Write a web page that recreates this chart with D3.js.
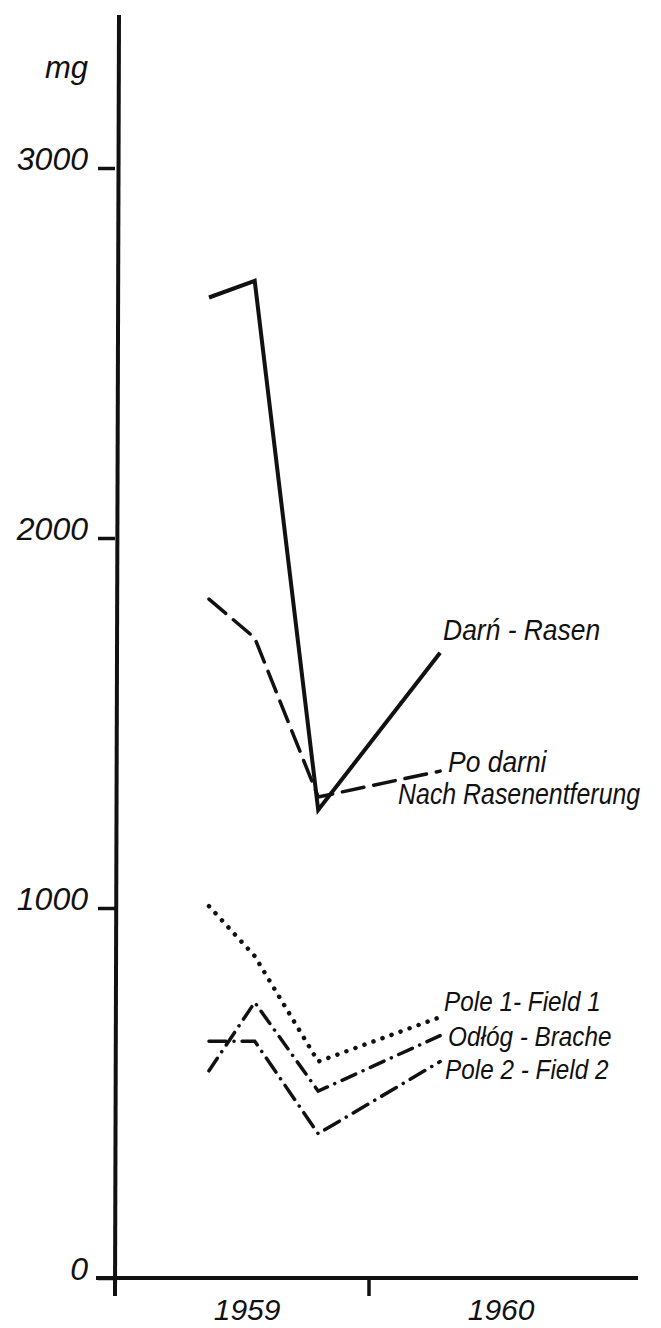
<!DOCTYPE html>
<html>
<head>
<meta charset="utf-8">
<script src="https://cdn.jsdelivr.net/npm/d3@7"></script>
<style>
  body { margin: 0; background: #fff; }
  text { font-family: "Liberation Sans", Arial, sans-serif; font-style: italic; fill: #111; }
</style>
</head>
<body>
<div id="main"></div>
<script>
// sampling dates (decimal years) and values in mg
var sampleYears = [1959.37, 1959.55, 1959.80, 1960.28];
var darn    = [2650, 2695, 1265, 1690];
var poDarni = [1835, 1730, 1300, 1370];
var pole1   = [1005, 870, 585, 705];
var odlog   = [560, 745, 505, 655];
var pole2   = [640, 640, 390, 585];
var yTicks = [0, 1000, 2000, 3000];
var xYears = [1959, 1960];

var width = 661, height = 1328;
var svg = d3.select("#main").append("svg")
  .attr("width", width).attr("height", height);
svg.append("rect").attr("width", width).attr("height", height).attr("fill", "#fff");

var x = d3.scaleLinear().domain([1959, 1960]).range([115, 369]);
var y = d3.scaleLinear().domain([0, 3000]).range([1278, 168]);

// y axis
var yAxis = svg.append("g")
  .attr("transform", "translate(" + x(1959) + ",0)")
  .call(d3.axisLeft(y).tickValues(yTicks).tickSize(17).tickPadding(10).tickFormat(d3.format("d")));
yAxis.select(".domain").remove();
yAxis.selectAll(".tick line").attr("stroke", "#111").attr("stroke-width", 3.5);
yAxis.selectAll(".tick text")
  .attr("dy", "0.05em")
  .style("font-size", "32px")
  .style("font-family", "'Liberation Sans', Arial, sans-serif")
  .style("font-style", "italic")
  .attr("fill", "#111");
svg.append("line")
  .attr("x1", x(1959) + 4).attr("y1", 15)
  .attr("x2", x(1959)).attr("y2", y(0) + 18)
  .attr("stroke", "#111").attr("stroke-width", 4);
svg.append("text")
  .attr("x", 88).attr("y", 78)
  .attr("text-anchor", "end")
  .style("font-size", "31px")
  .text("mg");

// x axis
svg.append("line")
  .attr("x1", 96).attr("y1", y(0))
  .attr("x2", 638).attr("y2", y(0))
  .attr("stroke", "#111").attr("stroke-width", 4);
svg.selectAll(".xtick").data(xYears).enter().append("line")
  .attr("class", "xtick")
  .attr("x1", function (d) { return x(d); }).attr("x2", function (d) { return x(d); })
  .attr("y1", y(0)).attr("y2", y(0) + 18)
  .attr("stroke", "#111").attr("stroke-width", 3.5);
svg.selectAll(".xlabel").data(xYears).enter().append("text")
  .attr("class", "xlabel")
  .attr("x", function (d) { return x(d + 0.52); })
  .attr("y", 1320)
  .attr("text-anchor", "middle")
  .style("font-size", "30px")
  .text(function (d) { return d; });

// series
var series = [
  { name: "Darń - Rasen", values: darn, dash: null, width: 4 },
  { name: "Po darni", values: poDarni, dash: "22,10", width: 3.5 },
  { name: "Pole 1- Field 1", values: pole1, dash: "0.1,9.5", width: 4.5 },
  { name: "Odłóg - Brache", values: odlog, dash: "15,8,0.1,8", width: 3.5 },
  { name: "Pole 2 - Field 2", values: pole2, dash: "17,8,0.1,8", width: 3.5 }
];

var line = d3.line()
  .x(function (d, i) { return x(sampleYears[i]); })
  .y(function (d) { return y(d); });

svg.selectAll(".series").data(series).enter().append("path")
  .attr("class", "series")
  .attr("d", function (s) { return line(s.values); })
  .attr("fill", "none")
  .attr("stroke", "#111")
  .attr("stroke-width", function (s) { return s.width; })
  .attr("stroke-linecap", function (s) { return s.dash ? "round" : "butt"; })
  .attr("stroke-linejoin", "miter")
  .attr("stroke-dasharray", function (s) { return s.dash; });

// labels next to the line ends (narrowed like the hand lettering)
var labelLayout = [
  { text: "Darń - Rasen", s: 0, dx: 3, dy: -13, size: 30, sx: 0.88 },
  { text: "Po darni", s: 1, dx: 8, dy: 1, size: 30, sx: 0.88 },
  { text: "Nach Rasenentferung", s: 1, dx: -42, dy: 33, size: 30, sx: 0.83 },
  { text: "Pole 1- Field 1", s: 2, dx: 4, dy: -6, size: 27, sx: 0.9 },
  { text: "Odłóg - Brache", s: 3, dx: 8, dy: 10, size: 27, sx: 0.9 },
  { text: "Pole 2 - Field 2", s: 4, dx: 5, dy: 17, size: 27, sx: 0.9 }
];
var last = sampleYears.length - 1;
svg.selectAll(".label").data(labelLayout).enter().append("text")
  .attr("class", "label")
  .attr("transform", function (d) {
    var lx = x(sampleYears[last]) + d.dx;
    var ly = y(series[d.s].values[last]) + d.dy;
    return "translate(" + lx + "," + ly + ") scale(" + d.sx + ",1)";
  })
  .style("font-size", function (d) { return d.size + "px"; })
  .text(function (d) { return d.text; });
</script>
</body>
</html>
